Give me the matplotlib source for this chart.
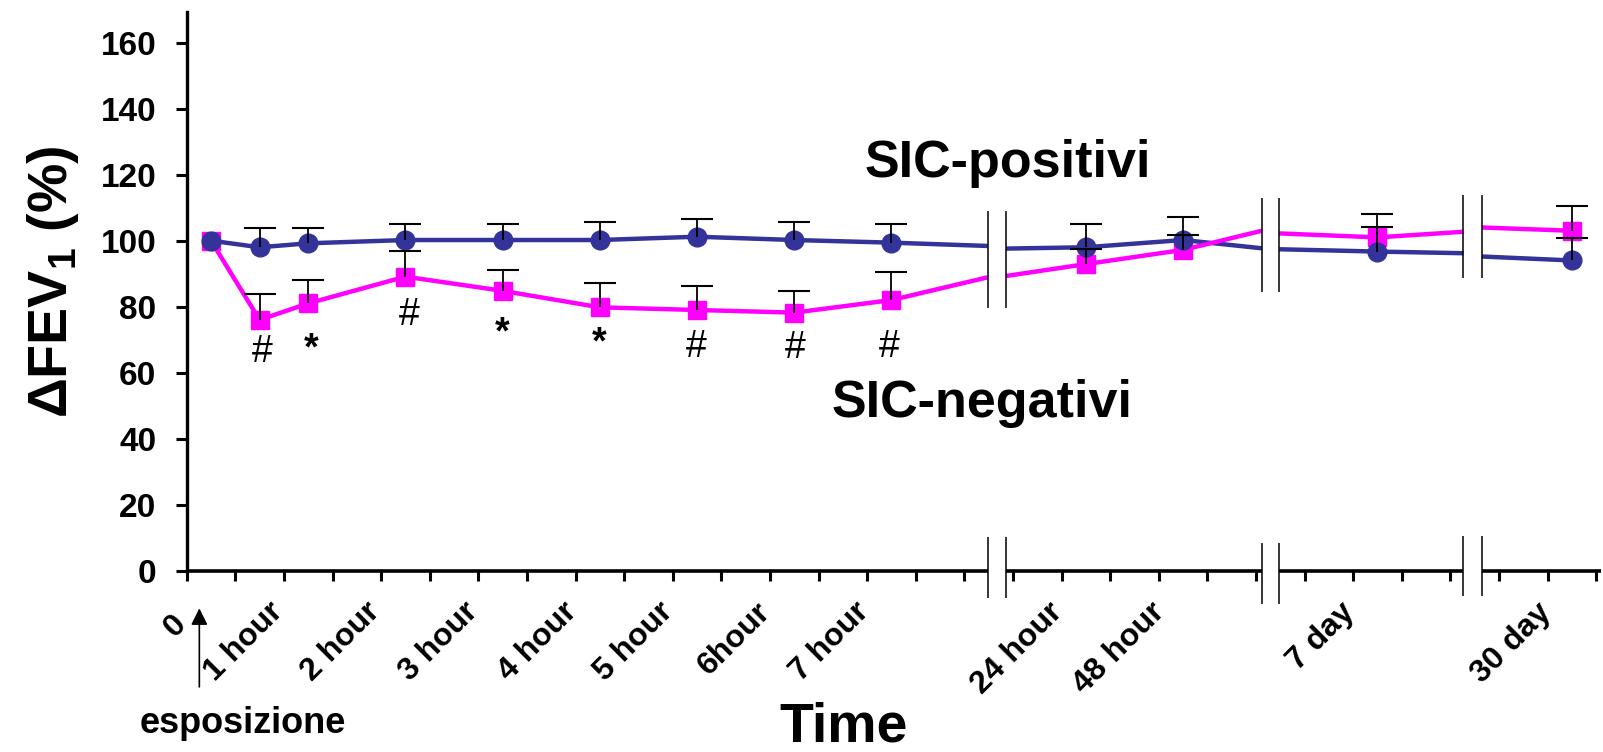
import numpy as np
import matplotlib.pyplot as plt

plt.rcParams['font.family'] = ['Liberation Sans', 'DejaVu Sans']
plt.rcParams['mathtext.fontset'] = 'custom'
plt.rcParams['mathtext.rm'] = 'Liberation Sans:bold'

# posizione dei punti sull'asse del tempo (in unita' di tacche)
time_pos = [0.5, 1.5, 2.5, 4.5, 6.5, 8.5, 10.5, 12.5, 14.5, 18.5, 20.5, 24.5, 28.5]

# SIC-positivi (blu) e SIC-negativi (magenta): media e estremo superiore della barra
pos_mean = [100.0, 98.0, 99.2, 100.2, 100.2, 100.2, 101.2, 100.2, 99.4, 98.0, 100.2, 96.7, 94.0]
pos_upper = [100.0, 103.9, 103.9, 105.0, 105.0, 105.7, 106.5, 105.7, 105.0, 105.0, 107.3, 104.0, 100.7]
neg_mean = [100.0, 76.0, 81.0, 89.1, 84.8, 79.8, 79.0, 78.2, 82.0, 92.9, 97.2, 101.0, 103.0]
neg_upper = [100.0, 83.8, 88.0, 96.9, 91.1, 87.1, 86.3, 84.8, 90.4, 97.5, 101.7, 108.1, 110.5]

# interruzioni dell'asse e valori delle curve ai bordi dell'interruzione
break_lo = [16.48, 22.12, 26.27]
break_hi = [16.86, 22.48, 26.65]
pos_at_lo = [98.4, 97.7, 96.2]
pos_at_hi = [97.6, 97.4, 95.2]
neg_at_lo = [88.9, 103.0, 102.7]
neg_at_hi = [89.3, 102.2, 104.0]
break_data_span = [(79.7, 108.9), (84.5, 113.0), (88.6, 113.8)]
break_axis_span = [(-8.4, 10.3), (-10.0, 8.5), (-7.7, 10.6)]

tick_labels = ['1 hour', '2 hour', '3 hour', '4 hour', '5 hour', '6hour',
               '7 hour', '24 hour', '48 hour', '7 day', '30 day']
label_pos = [1.67, 3.67, 5.68, 7.72, 9.69, 11.7, 13.72, 17.7, 19.8, 23.72, 27.76]

sig_marks = ['#', '*', '#', '*', '*', '#', '#', '#']
sig_x = [1.55, 2.56, 4.57, 6.49, 8.48, 10.48, 12.52, 14.45]
sig_y = [63.3, 64.1, 74.4, 68.8, 65.7, 64.9, 64.6, 64.8]

blue = '#333399'
pink = '#ff00ff'
x_max = 29.1
y_max = 169.2


def broken_path(xs, ys, at_lo, at_hi):
    px, py = [], []
    j = 0
    for x, y in zip(xs, ys):
        while j < len(break_lo) and x > break_lo[j]:
            px += [break_lo[j], np.nan, break_hi[j]]
            py += [at_lo[j], np.nan, at_hi[j]]
            j += 1
        px.append(x)
        py.append(y)
    return px, py


fig = plt.figure(figsize=(16.03, 7.52), dpi=100)
ax = fig.add_axes([186.7 / 1603, 181.3 / 752, 1414.3 / 1603, 558.4 / 752])
ax.set_xlim(0, x_max)
ax.set_ylim(0, y_max)

# linee
for mean, at_lo, at_hi, col in [(pos_mean, pos_at_lo, pos_at_hi, blue),
                                 (neg_mean, neg_at_lo, neg_at_hi, pink)]:
    px, py = broken_path(time_pos, mean, at_lo, at_hi)
    ax.plot(px, py, color=col, lw=3.2, zorder=2, solid_capstyle='butt')

# marker
ax.plot(time_pos, neg_mean, ls='none', marker='s', ms=13.5, color=pink, zorder=3)
ax.plot(time_pos, pos_mean, ls='none', marker='o', ms=13.5, color=blue, zorder=3)

# barre d'errore (solo verso l'alto)
for mean, upper in [(pos_mean, pos_upper), (neg_mean, neg_upper)]:
    m = np.array(mean[1:])
    up = np.array(upper[1:]) - m
    eb = ax.errorbar(time_pos[1:], m, yerr=[np.zeros_like(m), up], fmt='none',
                     ecolor='black', elinewidth=1.3, capsize=11.5, capthick=1.5, zorder=4)
    eb[1][0].set_visible(False)

# asse x interrotto
starts = [0] + break_hi
ends = break_lo + [x_max]
for a, b in zip(starts, ends):
    ax.plot([a, b], [0, 0], color='black', lw=2.6, clip_on=False,
            solid_capstyle='butt', zorder=5)
for lo, hi, (d0, d1), (a0, a1) in zip(break_lo, break_hi, break_data_span, break_axis_span):
    ax.vlines([lo, hi], d0, d1, color='black', lw=1.1, zorder=5)
    ax.vlines([lo, hi], a0, a1, color='black', lw=1.1, clip_on=False, zorder=5)

for s in ['top', 'right', 'bottom']:
    ax.spines[s].set_visible(False)
ax.spines['left'].set_linewidth(2.4)

ax.set_yticks(range(0, 161, 20))
ax.tick_params(axis='y', direction='out', length=8, width=2.2, labelsize=24, pad=14)
plt.setp(ax.get_yticklabels(), fontweight='bold')

ax.set_xticks(range(0, 30), minor=True)
ax.set_xticks(label_pos)
ax.set_xticklabels(tick_labels)
ax.tick_params(axis='x', which='major', length=0, pad=19, labelsize=23, labelrotation=45)
ax.tick_params(axis='x', which='minor', direction='out', length=7.5, width=2.2)
for lab in ax.get_xticklabels():
    lab.set_fontweight('bold')
    lab.set_horizontalalignment('right')
    lab.set_rotation_mode('anchor')

# etichetta "0" dell'asse del tempo
ax.text(-0.32, -11.5, '0', fontsize=23, fontweight='bold', rotation=45,
        ha='right', va='top', rotation_mode='anchor')

# asterischi e cancelletti
for mk, x, y in zip(sig_marks, sig_x, sig_y):
    ax.text(x, y, mk, fontsize=27, fontweight='bold' if mk == '*' else 'normal',
            ha='center', va='baseline', zorder=6)

ax.text(16.89, 119.4, 'SIC-positivi', fontsize=37.5, fontweight='bold', ha='center', va='baseline')
ax.text(16.37, 46.7, 'SIC-negativi', fontsize=37.5, fontweight='bold', ha='center', va='baseline')

# freccia esposizione
ax.annotate('', xy=(0.26, -11.4), xytext=(0.26, -35.2), annotation_clip=False,
            arrowprops=dict(arrowstyle='-|>', color='black', lw=1.2,
                            mutation_scale=25, shrinkA=0, shrinkB=0))
fig.text(140 / 1603, 1 - 733 / 752, 'esposizione', fontsize=26, fontweight='bold',
         ha='left', va='baseline')

fig.text(843.5 / 1603, 10 / 752, 'Time', fontsize=40, fontweight='bold',
         ha='center', va='baseline')
fig.text(53 / 1603, 1 - 282 / 752, r'ΔFEV$_\mathrm{1}$ (%)', fontsize=40, fontweight='bold',
         rotation=90, ha='center', va='center')

fig.savefig('out.png', dpi=100)
